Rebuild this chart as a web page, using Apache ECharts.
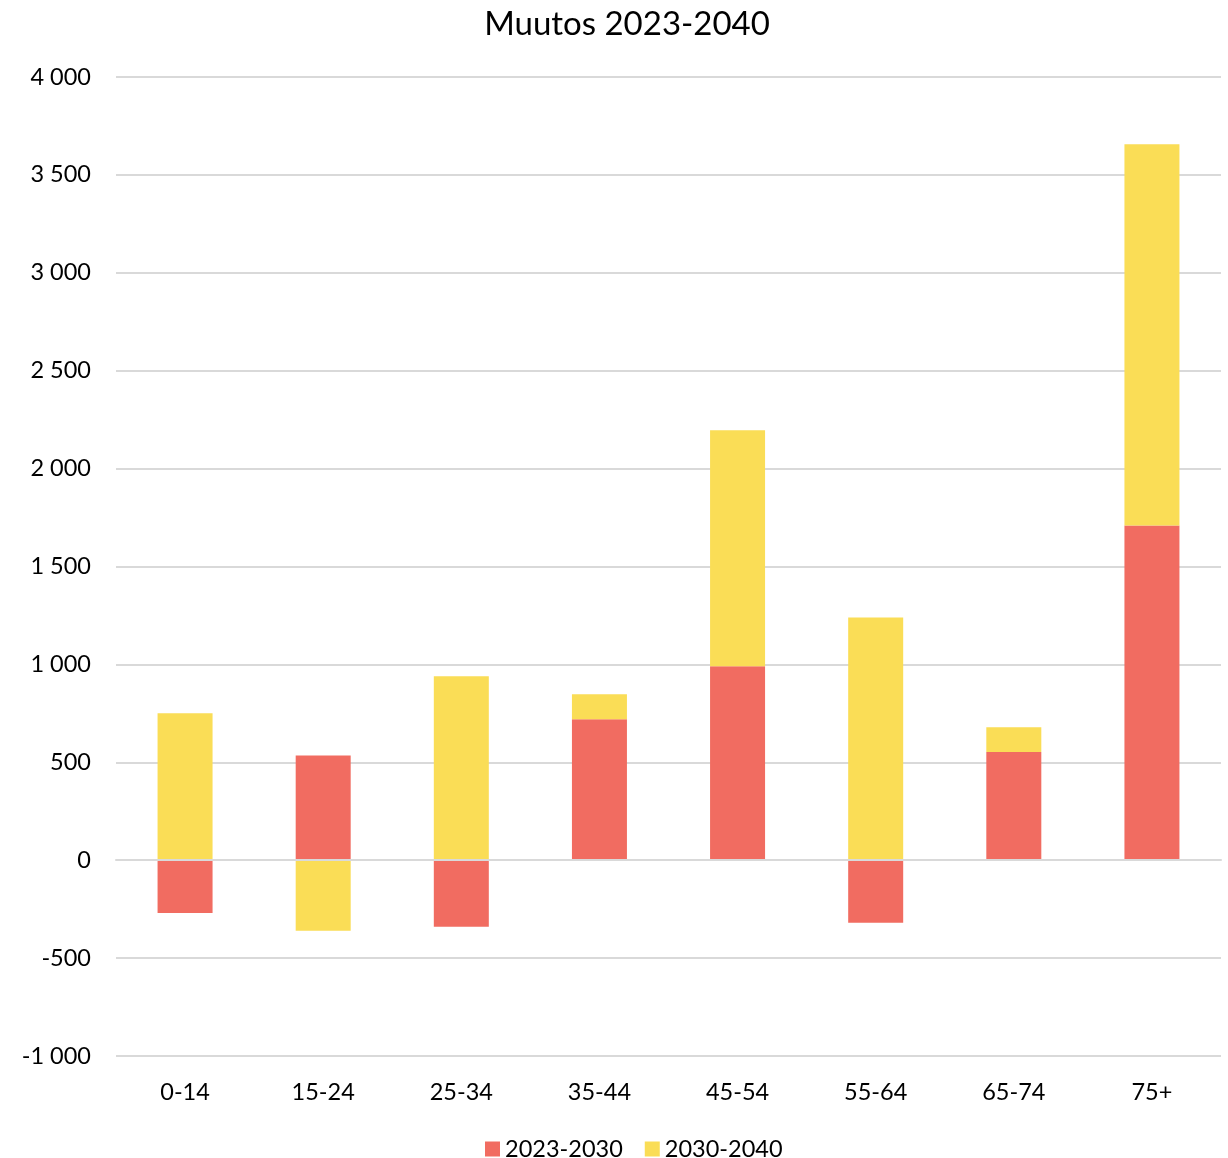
<!DOCTYPE html>
<html>
<head>
<meta charset="utf-8">
<script src="https://cdn.jsdelivr.net/npm/echarts@6/dist/echarts.min.js"></script>
<style>
  html, body { margin: 0; padding: 0; background: #fff; }
  #chart { width: 1228px; height: 1158px; }
</style>
</head>
<body>
<div id="chart"></div>
<script>
// age groups on the x axis
var ageGroups = ['0-14', '15-24', '25-34', '35-44', '45-54', '55-64', '65-74', '75+'];
// change per period
var change2023_2030 = [-270, 535, -340, 720, 990, -320, 552, 1710];
var change2030_2040 = [750, -360, 940, 128, 1206, 1240, 127, 1946];

var FONT = 'Lato';

function fmt(v) {
    var s = String(Math.abs(v)).replace(/\B(?=(\d{3})+(?!\d))/g, ' ');
    return (v < 0 ? '-' : '') + s;
}

var chart = echarts.init(document.getElementById('chart'));
chart.setOption({
    animation: false,
    title: {
        text: 'Muutos 2023-2040',
        left: 622,
        textAlign: 'center',
        top: 3,
        textStyle: { fontFamily: FONT, fontSize: 33, fontWeight: 'normal', color: '#000' }
    },
    legend: {
        bottom: -8,
        left: 480,
        itemWidth: 15,
        itemHeight: 15,
        itemGap: 22,
        icon: 'rect',
        textStyle: { fontFamily: FONT, fontSize: 23.5, color: '#000' },
        data: ['2023-2030', '2030-2040']
    },
    grid: { left: 116, right: 7, top: 77, bottom: 102 },
    xAxis: {
        type: 'category',
        data: ageGroups,
        z: 3,
        axisLine: { lineStyle: { color: '#d9d9d9', width: 2 } },
        axisTick: { show: false },
        axisLabel: { fontFamily: FONT, fontSize: 23.5, color: '#000', margin: 24 }
    },
    yAxis: {
        type: 'value',
        min: -1000,
        max: 4000,
        interval: 500,
        axisLine: { show: false },
        axisTick: { show: false },
        splitLine: { lineStyle: { color: '#d9d9d9', width: 2 } },
        axisLabel: { fontFamily: FONT, fontSize: 23.5, color: '#000', margin: 25, formatter: fmt }
    },
    series: [
        {
            name: '2023-2030',
            type: 'bar',
            stack: 'total',
            barWidth: 55,
            itemStyle: { color: '#F16C61' },
            data: change2023_2030
        },
        {
            name: '2030-2040',
            type: 'bar',
            stack: 'total',
            barWidth: 55,
            itemStyle: { color: '#FADD56' },
            data: change2030_2040
        }
    ]
});
</script>
</body>
</html>
